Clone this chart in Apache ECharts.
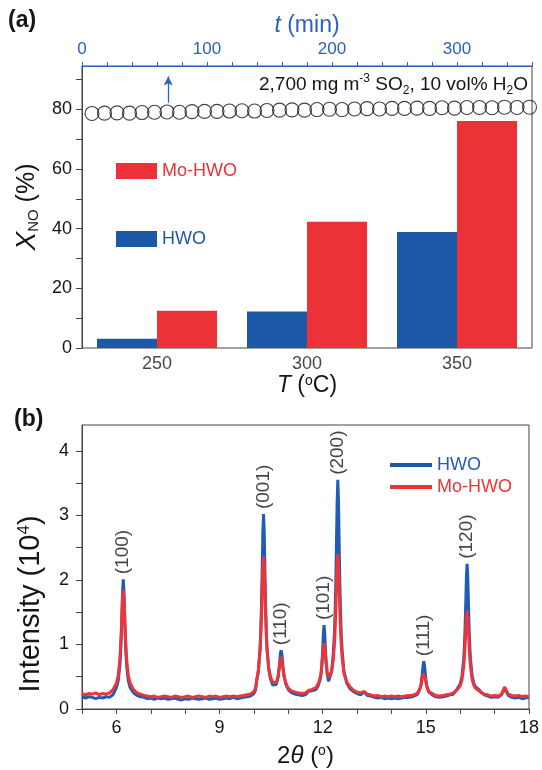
<!DOCTYPE html>
<html>
<head>
<meta charset="utf-8">
<script src="https://cdn.jsdelivr.net/npm/echarts@6/dist/echarts.min.js"></script>
<style>
  html, body { margin: 0; padding: 0; background: #fff; }
  #chart { width: 542px; height: 770px; }
</style>
</head>
<body>
<div id="chart"></div>
<script>
// ---- (a) NO conversion vs temperature ----
const temperatures = ['250', '300', '350'];
const hwoConversion = [3.1, 12.2, 38.9];
const moHwoConversion = [12.5, 42.3, 76.1];

// ---- (a) stability run at 350 °C (top time axis) ----
const stabilityTime = [8, 18, 28, 38, 48, 58, 68, 78, 88, 98, 108, 118, 128, 138, 148, 158, 168, 178,
  188, 198, 208, 218, 228, 238, 248, 258, 268, 278, 288, 298, 308, 318, 328, 338, 348, 358];
const stabilityConversion = [78.6, 78.7, 78.8, 78.7, 78.9, 79.0, 79.1, 79.0, 79.2, 79.3, 79.3, 79.4,
  79.5, 79.4, 79.6, 79.7, 79.8, 79.7, 79.9, 80.0, 79.9, 80.1, 80.2, 80.1, 80.3, 80.3, 80.4, 80.3,
  80.5, 80.4, 80.6, 80.6, 80.5, 80.7, 80.6, 80.7];
const gasSwitchTime = 69;
const gasSwitchArrow = [82.2, 91];

// ---- (b) XRD patterns: [2theta, intensity / 10^4] ----
const hwoPattern = [
  [5.0,0.19],[5.1,0.17],[5.2,0.19],[5.3,0.18],[5.4,0.16],[5.5,0.18],[5.6,0.17],[5.7,0.19],[5.8,0.18],[5.9,0.22],
  [6.0,0.33],[6.05,0.43],[6.1,0.66],[6.12,0.84],[6.14,1.10],[6.16,1.44],[6.18,1.83],[6.2,2.01],[6.22,1.83],[6.24,1.44],
  [6.26,1.10],[6.28,0.84],[6.3,0.66],[6.35,0.43],[6.4,0.33],[6.5,0.25],[6.6,0.21],[6.7,0.19],[6.8,0.18],[6.9,0.16],
  [7.0,0.17],[7.1,0.15],[7.2,0.17],[7.3,0.16],[7.4,0.17],[7.5,0.15],[7.6,0.16],[7.7,0.17],[7.8,0.15],[7.9,0.14],
  [8.0,0.16],[8.1,0.15],[8.2,0.17],[8.3,0.16],[8.4,0.15],[8.5,0.16],[8.6,0.17],[8.7,0.15],[8.8,0.16],[8.9,0.17],
  [9.0,0.15],[9.1,0.16],[9.2,0.17],[9.3,0.16],[9.4,0.18],[9.5,0.16],[9.6,0.17],[9.7,0.18],[9.8,0.19],[9.9,0.2],
  [10.0,0.24],[10.05,0.3],[10.08,0.43],[10.13,0.59],[10.18,0.95],[10.2,1.22],[10.22,1.61],[10.24,2.15],[10.26,2.74],[10.28,3.02],
  [10.3,2.74],[10.32,2.15],[10.34,1.61],[10.36,1.22],[10.38,0.95],[10.43,0.62],[10.48,0.47],[10.55,0.37],[10.6,0.35],[10.65,0.38],
  [10.7,0.48],[10.74,0.67],[10.77,0.86],[10.79,0.91],[10.81,0.86],[10.84,0.68],[10.88,0.5],[10.93,0.38],[11.0,0.3],[11.1,0.25],
  [11.2,0.23],[11.3,0.22],[11.4,0.21],[11.5,0.22],[11.55,0.24],[11.6,0.28],[11.64,0.31],[11.68,0.28],[11.72,0.27],[11.8,0.3],
  [11.86,0.35],[11.92,0.44],[11.96,0.56],[11.98,0.72],[12.0,0.92],[12.02,1.18],[12.04,1.30],[12.06,1.16],[12.08,0.92],[12.1,0.72],
  [12.13,0.54],[12.17,0.43],[12.21,0.44],[12.26,0.58],[12.31,0.87],[12.34,1.16],[12.36,1.47],[12.38,1.92],[12.4,2.54],[12.42,3.2],
  [12.44,3.55],[12.46,3.2],[12.48,2.54],[12.5,1.92],[12.52,1.47],[12.54,1.16],[12.57,0.87],[12.62,0.58],[12.7,0.4],[12.8,0.31],
  [12.9,0.27],[13.0,0.24],[13.1,0.22],[13.15,0.24],[13.2,0.26],[13.25,0.23],[13.3,0.21],[13.4,0.2],[13.5,0.18],[13.6,0.17],
  [13.7,0.18],[13.8,0.16],[13.9,0.17],[14.0,0.16],[14.1,0.17],[14.2,0.16],[14.3,0.17],[14.4,0.18],[14.5,0.18],[14.6,0.19],
  [14.7,0.21],[14.76,0.23],[14.8,0.26],[14.84,0.33],[14.86,0.38],[14.88,0.46],[14.9,0.57],[14.92,0.68],[14.94,0.74],[14.96,0.68],
  [14.98,0.57],[15.0,0.46],[15.02,0.38],[15.04,0.33],[15.09,0.26],[15.14,0.23],[15.24,0.2],[15.3,0.19],[15.4,0.18],[15.5,0.19],
  [15.6,0.2],[15.7,0.22],[15.8,0.23],[15.9,0.3],[16.0,0.39],[16.05,0.5],[16.1,0.76],[16.12,0.95],[16.14,1.24],[16.16,1.62],
  [16.18,2.05],[16.2,2.25],[16.22,2.05],[16.24,1.62],[16.26,1.24],[16.28,0.95],[16.3,0.76],[16.35,0.5],[16.4,0.39],[16.45,0.34],
  [16.5,0.34],[16.55,0.3],[16.6,0.26],[16.7,0.22],[16.8,0.2],[16.9,0.18],[17.0,0.19],[17.1,0.18],[17.2,0.22],[17.25,0.28],
  [17.29,0.31],[17.33,0.28],[17.4,0.21],[17.5,0.18],[17.6,0.17],[17.7,0.18],[17.8,0.16],[17.9,0.17],[18.0,0.18]
];
const moHwoPattern = [
  [5.0,0.24],[5.1,0.22],[5.2,0.24],[5.3,0.23],[5.4,0.25],[5.5,0.22],[5.6,0.24],[5.7,0.23],[5.8,0.25],[5.9,0.3],
  [6.0,0.4],[6.05,0.51],[6.1,0.76],[6.12,0.93],[6.14,1.16],[6.16,1.45],[6.18,1.73],[6.2,1.85],[6.22,1.73],[6.24,1.45],
  [6.26,1.16],[6.28,0.93],[6.3,0.76],[6.35,0.51],[6.4,0.4],[6.5,0.3],[6.6,0.25],[6.7,0.23],[6.8,0.21],[6.9,0.2],
  [7.0,0.19],[7.1,0.2],[7.2,0.18],[7.3,0.19],[7.4,0.2],[7.5,0.19],[7.6,0.18],[7.7,0.2],[7.8,0.19],[7.9,0.18],
  [8.0,0.19],[8.1,0.2],[8.2,0.18],[8.3,0.19],[8.4,0.2],[8.5,0.19],[8.6,0.18],[8.7,0.2],[8.8,0.19],[8.9,0.2],
  [9.0,0.18],[9.1,0.19],[9.2,0.2],[9.3,0.19],[9.4,0.2],[9.5,0.19],[9.6,0.2],[9.7,0.21],[9.8,0.22],[9.9,0.23],
  [10.0,0.27],[10.05,0.33],[10.08,0.45],[10.13,0.6],[10.18,0.92],[10.2,1.15],[10.22,1.45],[10.24,1.83],[10.26,2.2],[10.28,2.36],
  [10.3,2.2],[10.32,1.83],[10.34,1.45],[10.36,1.15],[10.38,0.92],[10.43,0.64],[10.48,0.5],[10.55,0.41],[10.6,0.39],[10.65,0.41],
  [10.7,0.5],[10.74,0.65],[10.77,0.77],[10.79,0.81],[10.81,0.78],[10.84,0.64],[10.88,0.5],[10.93,0.4],[11.0,0.32],[11.1,0.28],
  [11.2,0.26],[11.3,0.25],[11.4,0.24],[11.5,0.25],[11.55,0.26],[11.6,0.29],[11.64,0.32],[11.68,0.3],[11.72,0.3],[11.8,0.33],
  [11.86,0.38],[11.91,0.45],[11.94,0.52],[11.96,0.6],[11.98,0.71],[12.0,0.84],[12.02,0.96],[12.04,1.02],[12.06,0.96],[12.08,0.84],
  [12.1,0.72],[12.13,0.58],[12.17,0.49],[12.21,0.5],[12.26,0.58],[12.31,0.77],[12.34,0.99],[12.36,1.21],[12.38,1.51],[12.4,1.88],
  [12.42,2.24],[12.44,2.40],[12.46,2.24],[12.48,1.88],[12.5,1.51],[12.52,1.21],[12.54,0.99],[12.57,0.77],[12.62,0.55],[12.7,0.42],
  [12.8,0.34],[12.9,0.29],[13.0,0.26],[13.1,0.25],[13.15,0.26],[13.2,0.27],[13.25,0.25],[13.3,0.23],[13.4,0.22],[13.5,0.2],
  [13.6,0.21],[13.7,0.19],[13.8,0.2],[13.9,0.19],[14.0,0.2],[14.1,0.19],[14.2,0.2],[14.3,0.19],[14.4,0.2],[14.5,0.21],
  [14.6,0.21],[14.7,0.23],[14.76,0.25],[14.8,0.27],[14.84,0.33],[14.86,0.37],[14.88,0.42],[14.9,0.49],[14.92,0.55],[14.94,0.58],
  [14.96,0.55],[14.98,0.49],[15.0,0.42],[15.02,0.37],[15.04,0.33],[15.09,0.27],[15.14,0.24],[15.24,0.22],[15.3,0.21],[15.4,0.2],
  [15.5,0.21],[15.6,0.22],[15.7,0.23],[15.8,0.25],[15.9,0.29],[16.0,0.36],[16.05,0.45],[16.1,0.65],[16.12,0.78],[16.14,0.97],
  [16.16,1.2],[16.18,1.42],[16.2,1.52],[16.22,1.42],[16.24,1.2],[16.26,0.97],[16.28,0.78],[16.3,0.65],[16.35,0.45],[16.4,0.36],
  [16.45,0.32],[16.5,0.31],[16.55,0.28],[16.6,0.26],[16.7,0.23],[16.8,0.22],[16.9,0.2],[17.0,0.21],[17.1,0.2],[17.2,0.23],
  [17.25,0.29],[17.29,0.34],[17.33,0.3],[17.4,0.23],[17.5,0.21],[17.6,0.2],[17.7,0.21],[17.8,0.19],[17.9,0.2],[18.0,0.19]
];

// ---- (b) reflection indices at the HWO peak maxima ----
const peakNames = ['(100)', '(001)', '(110)', '(101)', '(200)', '(111)', '(120)'];
const peakPositions = [6.2, 10.28, 10.79, 12.04, 12.44, 14.94, 16.2];
const peakHeights = [2.01, 3.02, 0.91, 1.30, 3.55, 0.74, 2.25];

// ---- tick values ----
const convLabelValues = [0, 20, 40, 60, 80];
const convTickValues = [0, 10, 20, 30, 40, 50, 60, 70, 80, 90];
const intensityLabelValues = [0, 1, 2, 3, 4];
const intensityTickValues = [0, 0.5, 1, 1.5, 2, 2.5, 3, 3.5, 4];

const FONT = "'Liberation Sans', Arial, Helvetica, sans-serif";
const BLUE = '#1c58a8';
const RED = '#ec3237';
const LINE_BLUE = '#1f5cb6';
const LINE_RED = '#ef3439';
const AXIS_BLUE = '#2b62c0';
const AXIS = '#444';
const TEXT = '#151515';

const chart = echarts.init(document.getElementById('chart'), null, { renderer: 'canvas' });

const baseAxisLabel = { fontFamily: FONT, fontSize: 18, color: TEXT };

chart.setOption({
  animation: false,
  backgroundColor: '#fff',
  textStyle: { fontFamily: FONT },
  grid: [
    { left: 82, top: 66, width: 450, height: 282, show: true, borderColor: AXIS, borderWidth: 1, backgroundColor: 'transparent' },
    { left: 82, top: 425, width: 450, height: 284, show: true, borderColor: AXIS, borderWidth: 1, backgroundColor: 'transparent' }
  ],
  legend: [
    {
      orient: 'vertical', left: 111, top: 157, itemWidth: 41, itemHeight: 16, itemGap: 50, icon: 'rect',
      selectedMode: false,
      textStyle: { fontFamily: FONT, fontSize: 18 },
      data: [
        { name: 'Mo-HWO', textStyle: { color: RED } },
        { name: 'HWO', textStyle: { color: BLUE } }
      ]
    },
    {
      orient: 'vertical', left: 385, top: 451, itemWidth: 42, itemHeight: 4, itemGap: 4, icon: 'rect',
      selectedMode: false,
      textStyle: { fontFamily: FONT, fontSize: 18 },
      data: [
        { name: 'HWO', textStyle: { color: LINE_BLUE } },
        { name: 'Mo-HWO', textStyle: { color: LINE_RED } }
      ]
    }
  ],
  xAxis: [
    {
      // temperature bands for the grouped bars; the grid frame is the axis line
      type: 'category', gridIndex: 0, position: 'bottom', data: temperatures, show: false
    },
    {
      type: 'value', gridIndex: 0, position: 'top', min: 0, max: 360, interval: 20,
      axisLine: { onZero: false, lineStyle: { color: AXIS_BLUE, width: 1 } },
      axisTick: { length: 4, lineStyle: { color: AXIS_BLUE } },
      axisLabel: Object.assign({}, baseAxisLabel, {
        color: AXIS_BLUE, margin: 8, fontSize: 17,
        formatter: v => (v % 100 === 0 ? String(v) : '')
      }),
      splitLine: { show: false },
      name: '{i|t} (min)', nameLocation: 'middle', nameGap: 29,
      nameTextStyle: {
        fontFamily: FONT, fontSize: 23, color: AXIS_BLUE,
        rich: { i: { fontFamily: FONT, fontSize: 23, fontStyle: 'italic', color: AXIS_BLUE } }
      }
    },
    {
      type: 'value', gridIndex: 1, position: 'bottom', min: 5, max: 18, interval: 1,
      axisLine: { lineStyle: { color: AXIS, width: 1 } },
      axisTick: { length: 5, lineStyle: { color: AXIS } },
      axisLabel: Object.assign({}, baseAxisLabel, {
        margin: 10,
        formatter: v => (v % 3 === 0 ? String(v) : '')
      }),
      splitLine: { show: false },
      name: '2{i|θ} ({sup|o})', nameLocation: 'middle', nameGap: 35,
      nameTextStyle: {
        fontFamily: FONT, fontSize: 24, color: TEXT,
        rich: {
          i: { fontFamily: FONT, fontSize: 24, fontStyle: 'italic', color: TEXT },
          sup: { fontFamily: FONT, fontSize: 14, verticalAlign: 'top', color: TEXT }
        }
      }
    }
  ],
  yAxis: [
    {
      type: 'value', gridIndex: 0, position: 'left', min: 0, max: 94.5,
      axisLine: { show: true, onZero: false, lineStyle: { color: AXIS, width: 1 } },
      axisTick: { show: true, length: 6, customValues: convTickValues, lineStyle: { color: AXIS } },
      axisLabel: Object.assign({}, baseAxisLabel, { margin: 10, customValues: convLabelValues }),
      splitLine: { show: false },
      name: '{i|X}{sub|NO} (%)', nameLocation: 'middle', nameGap: 39,
      nameTextStyle: {
        fontFamily: FONT, fontSize: 25, color: TEXT,
        rich: {
          i: { fontFamily: FONT, fontSize: 28, fontStyle: 'italic', color: TEXT },
          sub: { fontFamily: FONT, fontSize: 15, verticalAlign: 'bottom', color: TEXT }
        }
      }
    },
    {
      type: 'value', gridIndex: 1, position: 'left', min: 0, max: 4.4,
      axisLine: { show: true, onZero: false, lineStyle: { color: AXIS, width: 1 } },
      axisTick: { show: true, length: 6, customValues: intensityTickValues, lineStyle: { color: AXIS } },
      axisLabel: Object.assign({}, baseAxisLabel, { margin: 13, customValues: intensityLabelValues }),
      splitLine: { show: false },
      name: 'Intensity (10{sup|4})', nameLocation: 'middle', nameGap: 37,
      nameTextStyle: {
        fontFamily: FONT, fontSize: 29, color: TEXT, padding: [0, 74, 0, 0],
        rich: { sup: { fontFamily: FONT, fontSize: 17, verticalAlign: 'top', color: TEXT } }
      }
    }
  ],
  graphic: [
    { type: 'text', left: 8, top: 9, style: { text: '(a)', font: 'bold 23px ' + FONT, fill: TEXT } },
    { type: 'text', left: 14, top: 408, style: { text: '(b)', font: 'bold 23px ' + FONT, fill: TEXT } },
    {
      // title of the temperature axis
      type: 'text', x: 307, y: 386,
      style: {
        text: '{i|T} ({sup|o}C)', align: 'center', verticalAlign: 'middle',
        font: '23px ' + FONT, fill: TEXT,
        rich: {
          i: { font: 'italic 23px ' + FONT, fill: TEXT },
          sup: { font: '14px ' + FONT, fill: TEXT, verticalAlign: 'top' }
        }
      }
    },
    {
      type: 'text', x: 528, y: 85, z: 10,
      style: {
        text: '2,700 mg m{sup|-3} SO{sub|2}, 10 vol% H{sub|2}O',
        align: 'right', verticalAlign: 'middle',
        font: '19px ' + FONT, fill: TEXT, lineHeight: 24,
        rich: {
          sup: { font: '12px ' + FONT, fill: TEXT, verticalAlign: 'top' },
          sub: { font: '12px ' + FONT, fill: TEXT, verticalAlign: 'bottom' }
        }
      }
    }
  ],
  series: [
    {
      name: 'HWO', type: 'bar', xAxisIndex: 0, yAxisIndex: 0,
      data: hwoConversion, barGap: '0%', barCategoryGap: '20%',
      itemStyle: { color: BLUE }
    },
    {
      name: 'Mo-HWO', type: 'bar', xAxisIndex: 0, yAxisIndex: 0,
      data: moHwoConversion, barGap: '0%', barCategoryGap: '20%',
      itemStyle: { color: RED }
    },
    {
      // temperature tick labels under each bar group
      name: 'temperature labels', type: 'scatter', xAxisIndex: 0, yAxisIndex: 0,
      symbolSize: 0, silent: true,
      data: temperatures.map(t => [t, 0]),
      label: {
        show: true, position: 'bottom', distance: 7,
        formatter: p => p.value[0],
        fontFamily: FONT, fontSize: 18, color: TEXT
      }
    },
    {
      name: 'stability', type: 'scatter', xAxisIndex: 1, yAxisIndex: 0,
      data: stabilityTime.map((t, i) => [t, stabilityConversion[i]]),
      symbol: 'circle', symbolSize: 14,
      itemStyle: { color: 'rgba(0,0,0,0)', borderColor: '#111', borderWidth: 1.1 },
      z: 5,
      markLine: {
        silent: true, symbol: ['none', 'arrow'], symbolSize: [7, 9],
        lineStyle: { color: AXIS_BLUE, width: 1.3, type: 'solid' },
        label: { show: false },
        data: [[{ coord: [gasSwitchTime, gasSwitchArrow[0]] }, { coord: [gasSwitchTime, gasSwitchArrow[1]] }]]
      }
    },
    {
      name: 'HWO', type: 'line', xAxisIndex: 2, yAxisIndex: 1,
      data: hwoPattern, showSymbol: false, symbol: 'none',
      lineStyle: { color: LINE_BLUE, width: 3 }, itemStyle: { color: LINE_BLUE }, z: 3
    },
    {
      name: 'Mo-HWO', type: 'line', xAxisIndex: 2, yAxisIndex: 1,
      data: moHwoPattern, showSymbol: false, symbol: 'none',
      lineStyle: { color: LINE_RED, width: 3 }, itemStyle: { color: LINE_RED }, z: 4
    },
    {
      name: 'reflections', type: 'scatter', xAxisIndex: 2, yAxisIndex: 1,
      symbolSize: 0, silent: true, z: 6,
      data: peakNames.map((n, i) => ({ name: n, value: [peakPositions[i], peakHeights[i]] })),
      label: {
        show: true, position: 'top', distance: 5, rotate: 90,
        align: 'left', verticalAlign: 'middle',
        formatter: p => p.name,
        fontFamily: FONT, fontSize: 19, color: TEXT
      }
    }
  ]
});
</script>
</body>
</html>
